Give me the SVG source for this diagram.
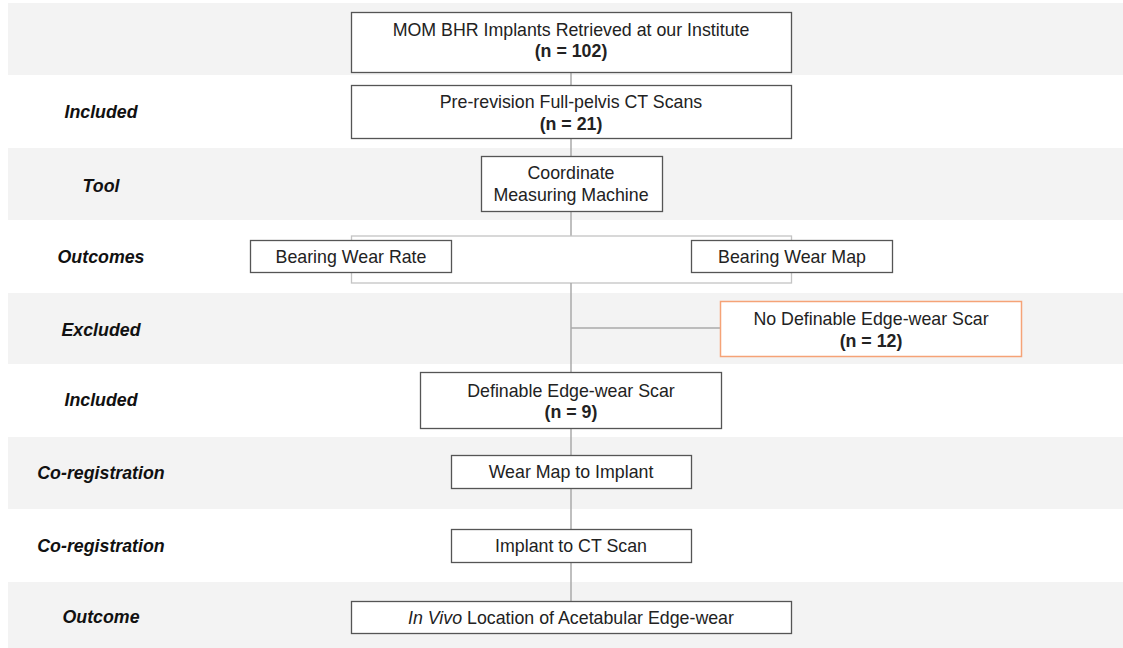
<svg xmlns="http://www.w3.org/2000/svg" width="1123" height="648" viewBox="0 0 1123 648">
<style>
.band{fill:#f3f3f3}
.box{fill:#fff;stroke:#555;stroke-width:1.3}
.ex{fill:#fff;stroke:#f5a377;stroke-width:1.5}
.t{font-family:"Liberation Sans",Arial,sans-serif;font-size:17.8px;fill:#222;text-anchor:middle}
.b{font-weight:bold}
.lab{font-family:"Liberation Sans",Arial,sans-serif;font-size:17.8px;font-weight:bold;font-style:italic;fill:#111;text-anchor:middle}
.c{fill:none;stroke:#aaa;stroke-width:1.5}
.br{fill:none;stroke:#c4c4c4;stroke-width:1.3}
</style>
<rect width="1123" height="648" fill="#fff"/>
<g id="bands">
<rect class="band" x="8" y="3" width="1115" height="72"/>
<rect class="band" x="8" y="148" width="1115" height="72"/>
<rect class="band" x="8" y="293" width="1115" height="71"/>
<rect class="band" x="8" y="437" width="1115" height="72"/>
<rect class="band" x="8" y="582" width="1115" height="66"/>
</g>
<g id="labels">
<text class="lab" x="101" y="118">Included</text>
<text class="lab" x="101" y="192">Tool</text>
<text class="lab" x="101" y="263">Outcomes</text>
<text class="lab" x="101" y="336">Excluded</text>
<text class="lab" x="101" y="406">Included</text>
<text class="lab" x="101" y="479">Co-registration</text>
<text class="lab" x="101" y="552">Co-registration</text>
<text class="lab" x="101" y="623">Outcome</text>
</g>
<g id="connectors">
<line class="c" x1="571" y1="72" x2="571" y2="85"/>
<line class="c" x1="571" y1="138" x2="571" y2="156"/>
<line class="c" x1="571" y1="211" x2="571" y2="236"/>
<rect class="br" x="351.5" y="236" width="440" height="47"/>
<line class="c" x1="571" y1="283" x2="571" y2="372"/>
<line class="c" x1="571" y1="328" x2="720" y2="328"/>
<line class="c" x1="571" y1="428" x2="571" y2="455"/>
<line class="c" x1="571" y1="488" x2="571" y2="529"/>
<line class="c" x1="571" y1="562" x2="571" y2="601"/>
</g>
<g id="n1">
<rect class="box" x="351.5" y="12.5" width="440" height="60"/>
<text class="t" x="571" y="36">MOM BHR Implants Retrieved at our Institute</text>
<text class="t b" x="571" y="57">(n = 102)</text>
</g>
<g id="n2">
<rect class="box" x="351.5" y="85.5" width="440" height="53"/>
<text class="t" x="571" y="108">Pre-revision Full-pelvis CT Scans</text>
<text class="t b" x="571" y="130">(n = 21)</text>
</g>
<g id="n3">
<rect class="box" x="481.5" y="156.5" width="181" height="55"/>
<text class="t" x="571" y="179">Coordinate</text>
<text class="t" x="571" y="201">Measuring Machine</text>
</g>
<g id="n4">
<rect class="box" x="250.5" y="240.5" width="201" height="32"/>
<text class="t" x="351" y="263">Bearing Wear Rate</text>
</g>
<g id="n5">
<rect class="box" x="691.5" y="240.5" width="201" height="32"/>
<text class="t" x="792" y="263">Bearing Wear Map</text>
</g>
<g id="n6">
<rect class="ex" x="720.5" y="301.5" width="301" height="55"/>
<text class="t" x="871" y="325">No Definable Edge-wear Scar</text>
<text class="t b" x="871" y="347">(n = 12)</text>
</g>
<g id="n7">
<rect class="box" x="420.5" y="372.5" width="301" height="56"/>
<text class="t" x="571" y="397">Definable Edge-wear Scar</text>
<text class="t b" x="571" y="418">(n = 9)</text>
</g>
<g id="n8">
<rect class="box" x="451.5" y="455.5" width="240" height="33"/>
<text class="t" x="571" y="478">Wear Map to Implant</text>
</g>
<g id="n9">
<rect class="box" x="451.5" y="529.5" width="240" height="33"/>
<text class="t" x="571" y="552">Implant to CT Scan</text>
</g>
<g id="n10">
<rect class="box" x="351.5" y="601.5" width="440" height="32"/>
<text class="t" x="571" y="624"><tspan font-style="italic">In Vivo</tspan> Location of Acetabular Edge-wear</text>
</g>
</svg>
